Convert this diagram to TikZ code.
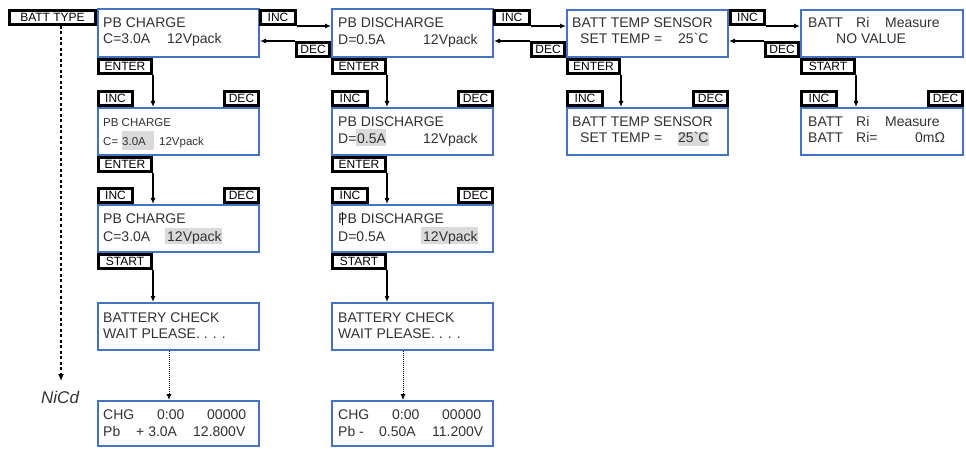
\documentclass[tikz,border=0pt]{standalone}
\usepackage{fontspec}
\setmainfont{Liberation Sans}
\usetikzlibrary{arrows.meta,calc}
\definecolor{scrblue}{RGB}{68,114,196}
\definecolor{txtc}{RGB}{50,50,50}
\definecolor{hlc}{RGB}{218,218,218}
\newcommand\lab[6]{\node[lbl, minimum width={#4-#2-3}, minimum height={#5-#3-3}] (#1) at ({(#2+#4)/2},{(#3+#5)/2}) {#6};}
\newcommand\scr[5]{\node[screen, minimum width={#4-#2-2}, minimum height={#5-#3-2}] (#1) at ({(#2+#4)/2},{(#3+#5)/2}) {};}
\newcommand\tx[4]{\node[txt] (#1) at (#2,#3) {#4};}
\newcommand\txs[4]{\node[txt, font=\fontsize{11.5}{12}\selectfont] (#1) at (#2,#3) {#4};}
\begin{document}
\begin{tikzpicture}[x=1pt,y=-1pt,
  screen/.style={draw=scrblue, line width=2pt, fill=white, inner sep=0pt},
  lbl/.style={draw=black, line width=3pt, fill=white, inner sep=0pt, text height=8.6pt, text depth=0pt, font=\fontsize{12}{12}\selectfont},
  txt/.style={anchor=base west, inner sep=0pt, text=txtc, font=\fontsize{14}{16}\selectfont},
  hl/.style={fill=hlc},
  arr/.style={line width=1.1pt, -{Latex[length=6pt,width=5pt]}},
  darr/.style={line width=1pt, dash pattern=on 1pt off 1pt, -{Latex[length=6pt,width=5pt]}},
  typearr/.style={line width=1.6pt, dash pattern=on 3pt off 2.5pt, -{Latex[length=7pt,width=6pt]}}]
\useasboundingbox (0,0) rectangle (966,449);

% screens
\scr{c1}{97}{8}{260}{58}
\scr{c2}{97}{107}{260}{156}
\scr{c3}{97}{204}{260}{253}
\scr{c4}{97}{302}{260}{351}
\scr{c5}{97}{400}{260}{447}
\scr{d1}{331}{8}{494}{58}
\scr{d2}{331}{107}{494}{156}
\scr{d3}{331}{204}{494}{253}
\scr{d4}{331}{302}{494}{351}
\scr{d5}{331}{400}{494}{447}
\scr{t1}{566}{9}{729}{58}
\scr{t2}{566}{107}{729}{156}
\scr{r1}{800}{9}{964}{58}
\scr{r2}{800}{107}{964}{156}

% highlights
\fill[hl] (122,131) rectangle (154,150);
\fill[hl] (165,228) rectangle (222,244);
\fill[hl] (356,129) rectangle (386,146);
\fill[hl] (421,227) rectangle (478,244);
\fill[hl] (678,132) rectangle (709,146);

% screen texts
\tx{c1a}{103}{28}{PB CHARGE}
\tx{c1b}{103}{44}{C=3.0A}
\tx{c1c}{167}{44}{12Vpack}
\txs{c2a}{103}{127}{PB CHARGE}
\txs{c2b}{103}{146}{C=}
\txs{c2c}{122}{146}{3.0A}
\txs{c2d}{159}{146}{12Vpack}
\tx{c3a}{103}{223}{PB CHARGE}
\tx{c3b}{103}{241}{C=3.0A}
\tx{c3c}{167}{241}{12Vpack}
\tx{c4a}{103}{322}{BATTERY CHECK}
\tx{c4b}{103}{338}{WAIT PLEASE. . . .}
\tx{c5a}{103}{419}{CHG}
\tx{c5b}{157}{419}{0:00}
\tx{c5c}{207}{419}{00000}
\tx{c5d}{103}{436}{Pb}
\tx{c5e}{136}{436}{+ 3.0A}
\tx{c5f}{193}{436}{12.800V}

\tx{d1a}{338}{28}{PB DISCHARGE}
\tx{d1b}{338}{45}{D=0.5A}
\tx{d1c}{423}{45}{12Vpack}
\tx{d2a}{338}{127}{PB DISCHARGE}
\tx{d2b}{338}{144}{D=}
\tx{d2c}{357}{144}{0.5A}
\tx{d2d}{423}{144}{12Vpack}
\tx{d3a}{338}{223}{PB DISCHARGE}
\tx{d3b}{338}{241}{D=0.5A}
\tx{d3c}{423}{241}{12Vpack}
\draw[line width=0.8pt, black] (342.5,212) -- (342.5,225);
\tx{d4a}{338}{322}{BATTERY CHECK}
\tx{d4b}{338}{338}{WAIT PLEASE. . . .}
\tx{d5a}{338}{419}{CHG}
\tx{d5b}{392}{419}{0:00}
\tx{d5c}{442}{419}{00000}
\tx{d5d}{338}{436}{Pb -}
\tx{d5e}{379}{436}{0.50A}
\tx{d5f}{432}{436}{11.200V}

\tx{t1a}{572}{28}{BATT TEMP SENSOR}
\tx{t1b}{580}{44}{SET TEMP =}
\tx{t1c}{678}{44}{25\textasciigrave C}
\tx{t2a}{572}{127}{BATT TEMP SENSOR}
\tx{t2b}{580}{143}{SET TEMP =}
\tx{t2c}{678}{143}{25\textasciigrave C}

\tx{r1a}{808}{28}{BATT}
\tx{r1b}{856}{28}{Ri}
\tx{r1c}{885}{28}{Measure}
\tx{r1d}{836}{44}{NO VALUE}
\tx{r2a}{808}{127}{BATT}
\tx{r2b}{856}{127}{Ri}
\tx{r2c}{885}{127}{Measure}
\tx{r2d}{808}{143}{BATT}
\tx{r2e}{856}{143}{Ri=}
\tx{r2f}{915}{143}{0mΩ}

% labels
\lab{battype}{8}{9}{97}{26}{BATT TYPE}
\lab{incA}{259}{9}{297}{26}{INC}
\lab{decA}{295}{41}{331}{58}{DEC}
\lab{incB}{493}{9}{531}{26}{INC}
\lab{decB}{530}{41}{566}{58}{DEC}
\lab{incC}{729}{9}{766}{26}{INC}
\lab{decC}{764}{41}{800}{58}{DEC}
\lab{entC1}{97}{58}{153}{75}{ENTER}
\lab{entD1}{331}{58}{387}{75}{ENTER}
\lab{entT1}{566}{58}{621}{75}{ENTER}
\lab{startR1}{800}{58}{856}{75}{START}
\lab{incC2}{97}{90}{134}{107}{INC}
\lab{decC2}{223}{90}{260}{107}{DEC}
\lab{incD2}{331}{90}{369}{107}{INC}
\lab{decD2}{457}{90}{494}{107}{DEC}
\lab{incT2}{566}{90}{604}{107}{INC}
\lab{decT2}{692}{90}{729}{107}{DEC}
\lab{incR2}{800}{90}{838}{107}{INC}
\lab{decR2}{927}{90}{964}{107}{DEC}
\lab{entC2}{97}{156}{153}{173}{ENTER}
\lab{entD2}{331}{156}{387}{173}{ENTER}
\lab{incC3}{97}{187}{134}{204}{INC}
\lab{decC3}{223}{187}{260}{204}{DEC}
\lab{incD3}{331}{187}{369}{204}{INC}
\lab{decD3}{457}{187}{494}{204}{DEC}
\lab{startC3}{97}{253}{153}{270}{START}
\lab{startD3}{331}{253}{387}{270}{START}

% horizontal arrows
\coordinate (a1) at (incA.south east); \draw[arr] (a1) -- (a1 -| d1.west);
\coordinate (b1) at (decA.north west); \draw[arr] (b1) -- (b1 -| c1.east);
\coordinate (a2) at (incB.south east); \draw[arr] (a2) -- (a2 -| t1.west);
\coordinate (b2) at (decB.north west); \draw[arr] (b2) -- (b2 -| d1.east);
\coordinate (a3) at (incC.south east); \draw[arr] (a3) -- (a3 -| r1.west);
\coordinate (b3) at (decC.north west); \draw[arr] (b3) -- (b3 -| t1.east);

% vertical arrows
\coordinate (v1) at (entC1.south east); \draw[arr] (v1) -- (v1 |- c2.north);
\coordinate (v2) at (entC2.south east); \draw[arr] (v2) -- (v2 |- c3.north);
\coordinate (v3) at (startC3.south east); \draw[arr] (v3) -- (v3 |- c4.north);
\coordinate (v4) at (entD1.south east); \draw[arr] (v4) -- (v4 |- d2.north);
\coordinate (v5) at (entD2.south east); \draw[arr] (v5) -- (v5 |- d3.north);
\coordinate (v6) at (startD3.south east); \draw[arr] (v6) -- (v6 |- d4.north);
\coordinate (v7) at (entT1.south east); \draw[arr] (v7) -- (v7 |- t2.north);
\coordinate (v8) at (startR1.south east); \draw[arr] (v8) -- (v8 |- r2.north);

% dotted arrows
\coordinate (w1) at ([xshift=72pt]c4.south west); \draw[darr] (w1) -- (w1 |- c5.north);
\coordinate (w2) at ([xshift=72pt]d4.south west); \draw[darr] (w2) -- (w2 |- d5.north);

% batt type
\coordinate (bt) at ([xshift=8.5pt]battype.south);
\coordinate (nicdtip) at (61,381);
\draw[typearr] (bt) -- (nicdtip);
\node[anchor=base west, inner sep=0pt, text=txtc, font=\fontsize{17}{18}\selectfont\itshape] (nicd) at (41,403) {NiCd};
\end{tikzpicture}
\end{document}
